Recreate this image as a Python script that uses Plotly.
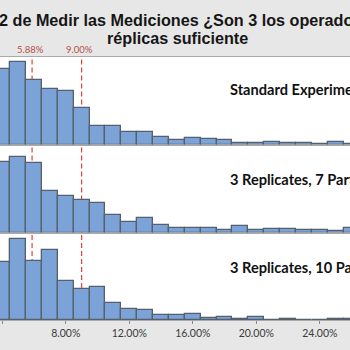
import plotly.graph_objects as go

# ---------------- data ----------------
bin_centers = list(range(4, 27))  # percent, 1% wide bins
standard_exp = [76, 82.5, 65, 56, 54, 36.5, 19, 19, 12.5, 12.5, 8, 4.2, 6.5, 6, 4.2,
                2, 2, 3, 2, 2, 1, 2.5, 1]
reps3_parts7 = [70.4, 76, 69.4, 41.7, 36.4, 32.4, 29.4, 18, 10.5, 15, 7.4, 4.8, 4.3,
                4.6, 3, 6.6, 3, 4, 4, 2.3, 2.3, 1.3, 4.6]
reps3_parts10 = [57.7, 81.3, 58.7, 70.3, 38.7, 31, 32.7, 17.3, 11, 10, 5.4, 5.5, 6,
                 2, 3, 1, 3, 0.3, 1.3, 0.3, 0.3, 0.7, 1]
panel_labels = ["Standard Experiment", "3 Replicates, 7 Parts", "3 Replicates, 10 Parts"]
ref_values = [5.88, 9.00]
ref_labels = ["5.88%", "9.00%"]
tick_values = [4, 8, 12, 16, 20, 24]
tick_labels = ["4.00%", "8.00%", "12.00%", "16.00%", "20.00%", "24.00%"]
title_lines = ["Parte 2 de Medir las Mediciones ¿Son 3 los operadores y 10",
               "réplicas suficiente"]

# ---------------- styling / layout ----------------
W = H = 350
series = [standard_exp, reps3_parts7, reps3_parts10]
# panel pixel extents (top, bottom)
panels_px = [(57, 144.5), (146, 232.5), (234, 320)]
x_range = [3.86, 25.90]
bar_fill = "#7ba3d7"
bar_edge = "#55606c"
ref_color = "#e5403a"
bg_gray = "#e7e7e7"
frame = "#a9a9a9"

fig = go.Figure()
shapes = []
annotations = []
layout_axes = {}

for i, (vals, (top, bot)) in enumerate(zip(series, panels_px), start=1):
    xa = "x" if i == 1 else f"x{i}"
    ya = "y" if i == 1 else f"y{i}"
    ymax = bot - top
    fig.add_trace(go.Bar(
        x=bin_centers, y=vals, width=1.0, xaxis=xa, yaxis=ya,
        marker=dict(color=bar_fill, line=dict(color=bar_edge, width=1.3)),
        showlegend=False, hoverinfo="skip"))
    for v in ref_values:
        shapes.append(dict(type="line", xref=xa, yref=ya, x0=v, x1=v, y0=0, y1=ymax,
                           layer="below",
                           line=dict(color=ref_color, width=1.2, dash="5px,3px")))
    xkey = "xaxis" if i == 1 else f"xaxis{i}"
    ykey = "yaxis" if i == 1 else f"yaxis{i}"
    last = i == len(series)
    layout_axes[xkey] = dict(
        domain=[0, 1], anchor=ya, range=x_range, showgrid=False, zeroline=False,
        showline=True, mirror=True, linecolor=frame, linewidth=1,
        tickvals=tick_values, ticktext=tick_labels,
        showticklabels=last, ticks="outside" if last else "", ticklen=3,
        tickcolor="#8a8a8a",
        tickfont=dict(family="Lato", size=10.5, color="#3a3a3a"),
        fixedrange=True)
    layout_axes[ykey] = dict(
        domain=[1 - bot / H, 1 - top / H], anchor=xa, range=[0, ymax],
        showgrid=False, zeroline=False, showticklabels=False, showline=False,
        ticks="", fixedrange=True)
    annotations.append(dict(
        text=panel_labels[i - 1], xref="paper", yref="paper",
        x=228 / W, y=1 - (top + 33) / H, xanchor="left", yanchor="middle",
        showarrow=False, font=dict(family="Lato", size=14.6, color="#111111", weight="bold")))

# reference labels above first panel
for v, lab in zip(ref_values, ref_labels):
    annotations.append(dict(
        text=lab, xref="x", yref="paper", x=v, y=1 - 50 / H,
        xanchor="center", yanchor="middle", xshift=-2, showarrow=False,
        font=dict(family="Lato", size=9.5, color="#b5504c")))

# title lines
for ln, yc, dx in zip(title_lines, [20, 38.5], [7, 0]):
    annotations.append(dict(
        text=ln, xref="paper", yref="paper", x=0.506, y=1 - yc / H,
        xanchor="center", yanchor="middle", xshift=dx, showarrow=False,
        font=dict(family="Liberation Sans", size=16.2, color="#161616", weight="bold")))

fig.update_layout(
    width=W, height=H, margin=dict(l=0, r=0, t=0, b=0),
    paper_bgcolor=bg_gray, plot_bgcolor="white",
    bargap=0, shapes=shapes, annotations=annotations,
    **layout_axes)

fig.write_html("out.html")
